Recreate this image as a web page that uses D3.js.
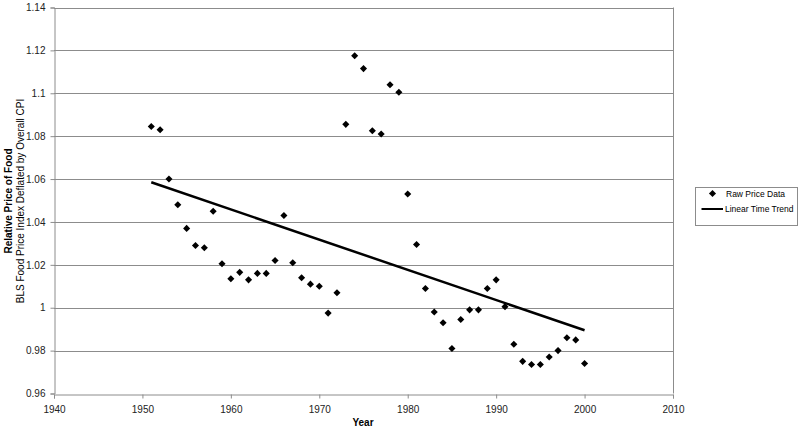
<!DOCTYPE html>
<html>
<head>
<meta charset="utf-8">
<script src="https://cdn.jsdelivr.net/npm/d3@7"></script>
<style>
  body { margin: 0; background: #fff; }
  text { font-family: "Liberation Sans", Arial, sans-serif; }
</style>
</head>
<body>
<div id="chart"></div>
<script>
// raw price data, relative price of food by year
const years = [1951, 1952, 1953, 1954, 1955, 1956, 1957, 1958, 1959, 1960,
               1961, 1962, 1963, 1964, 1965, 1966, 1967, 1968, 1969, 1970,
               1971, 1972, 1973, 1974, 1975, 1976, 1977, 1978, 1979, 1980,
               1981, 1982, 1983, 1984, 1985, 1986, 1987, 1988, 1989, 1990,
               1991, 1992, 1993, 1994, 1995, 1996, 1997, 1998, 1999, 2000];
const prices = [1.0845, 1.083, 1.060, 1.048, 1.037, 1.029, 1.028, 1.045, 1.0205, 1.0135,
                1.0165, 1.013, 1.016, 1.016, 1.022, 1.043, 1.021, 1.014, 1.011, 1.010,
                0.9975, 1.007, 1.0855, 1.1175, 1.1115, 1.0825, 1.081, 1.104, 1.1005, 1.053,
                1.0295, 1.009, 0.998, 0.993, 0.981, 0.9945, 0.999, 0.999, 1.009, 1.013,
                1.0005, 0.983, 0.975, 0.9735, 0.9735, 0.977, 0.980, 0.986, 0.985, 0.974];
// linear time trend end points
const trendYears = [1951, 2000];
const trendValues = [1.0585, 0.9895];

const xTicks = [1940, 1950, 1960, 1970, 1980, 1990, 2000, 2010];
const yTicks = [0.96, 0.98, 1, 1.02, 1.04, 1.06, 1.08, 1.1, 1.12, 1.14];

const WIDTH = 800, HEIGHT = 432;
const PLOT = { left: 54, right: 673, top: 7.5, bottom: 393.5 };

const svg = d3.select("#chart")
              .append("svg")
              .attr("width", WIDTH)
              .attr("height", HEIGHT);

const x = d3.scaleLinear().domain([1940, 2010]).range([PLOT.left, PLOT.right]);
const y = d3.scaleLinear().domain([0.96, 1.14]).range([PLOT.bottom, PLOT.top]);

// horizontal gridlines
svg.append("g")
   .selectAll("line")
   .data(yTicks.slice(1))
   .enter()
   .append("line")
       .attr("x1", PLOT.left).attr("x2", PLOT.right)
       .attr("y1", d => Math.round(y(d)) + 0.5)
       .attr("y2", d => Math.round(y(d)) + 0.5)
       .attr("stroke", "#8c8c8c")
       .attr("stroke-width", 1);

// right border
svg.append("line")
   .attr("x1", PLOT.right + 0.5).attr("x2", PLOT.right + 0.5)
   .attr("y1", PLOT.top).attr("y2", PLOT.bottom)
   .attr("stroke", "#8c8c8c");

// axes
const xAxis = svg.append("g")
   .attr("transform", "translate(0," + (Math.round(PLOT.bottom) + 0.5) + ")")
   .call(d3.axisBottom(x).tickValues(xTicks).tickFormat(d3.format("d")).tickSizeOuter(0).tickSize(4));
const yAxis = svg.append("g")
   .attr("transform", "translate(" + (PLOT.left + 0.5) + ",0)")
   .call(d3.axisLeft(y).tickValues(yTicks).tickFormat(d => String(+d.toFixed(2))).tickSizeOuter(0).tickSize(4));

[xAxis, yAxis].forEach(a => {
    a.select(".domain").attr("stroke", "#8c8c8c");
    a.selectAll(".tick line").attr("stroke", "#8c8c8c");
    a.selectAll("text")
     .attr("fill", "#222")
     .style("font-size", "10px")
     .style("font-family", "'Liberation Sans', Arial, sans-serif");
});
xAxis.selectAll("text").attr("dy", "0").attr("y", 18);
yAxis.selectAll("text").attr("x", -9);

// trend line
const trend = trendYears.map((d, i) => [d, trendValues[i]]);
svg.append("path")
   .datum(trend)
   .attr("d", d3.line().x(d => x(d[0])).y(d => y(d[1])))
   .attr("stroke", "#000")
   .attr("stroke-width", 2.5)
   .attr("fill", "none");

// raw price markers
const diamond = d3.symbol().type(d3.symbolDiamond2).size(32);
svg.append("g")
   .selectAll("path")
   .data(years.map((d, i) => [d, prices[i]]))
   .enter()
   .append("path")
       .attr("d", diamond)
       .attr("transform", d => "translate(" + x(d[0]) + "," + y(d[1]) + ")")
       .attr("fill", "#000");

// axis titles
svg.append("text")
   .attr("x", 363).attr("y", 426)
   .attr("text-anchor", "middle")
   .style("font-size", "10px")
   .style("font-weight", "bold")
   .text("Year");

const yTitle = svg.append("g").attr("transform", "translate(0,201) rotate(-90)");
yTitle.append("text")
   .attr("x", 0).attr("y", 12)
   .attr("text-anchor", "middle")
   .style("font-size", "10px")
   .style("font-weight", "bold")
   .text("Relative Price of Food");
yTitle.append("text")
   .attr("x", 0).attr("y", 24)
   .attr("text-anchor", "middle")
   .style("font-size", "10px")
   .text("BLS Food Price Index Deflated by Overall CPI");

// legend
const legend = svg.append("g");
legend.append("rect")
   .attr("x", 695.5).attr("y", 187.5)
   .attr("width", 102).attr("height", 38)
   .attr("fill", "#fff")
   .attr("stroke", "#8c8c8c");
legend.append("path")
   .attr("d", diamond)
   .attr("transform", "translate(712.5,193.5)")
   .attr("fill", "#000");
legend.append("text")
   .attr("x", 726).attr("y", 196.5)
   .style("font-size", "8.5px")
   .text("Raw Price Data");
legend.append("line")
   .attr("x1", 701.5).attr("x2", 723)
   .attr("y1", 209).attr("y2", 209)
   .attr("stroke", "#000")
   .attr("stroke-width", 2);
legend.append("text")
   .attr("x", 725).attr("y", 212)
   .style("font-size", "8.5px")
   .text("Linear Time Trend");
</script>
</body>
</html>
